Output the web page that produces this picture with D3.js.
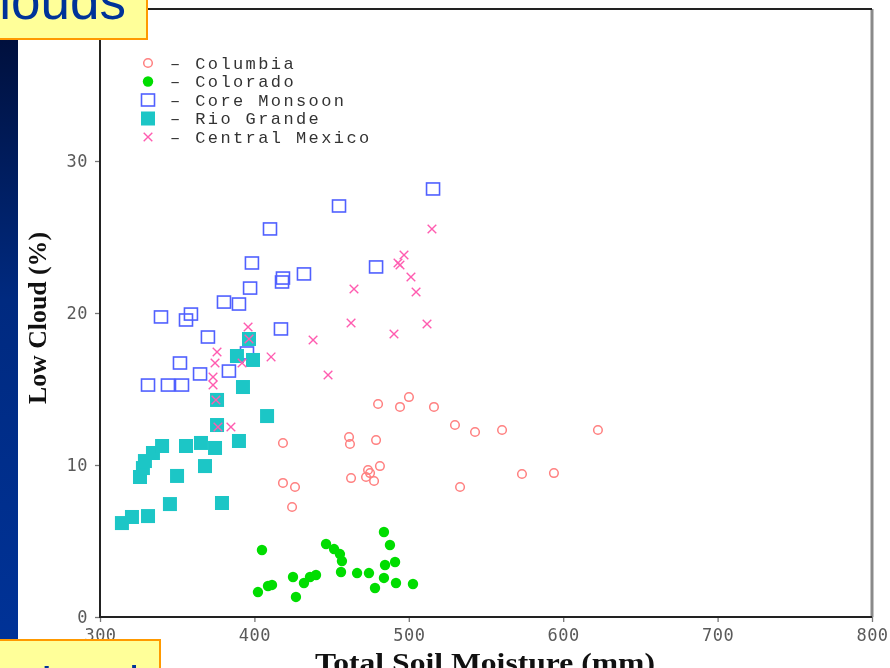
<!DOCTYPE html>
<html>
<head>
<meta charset="utf-8">
<script src="https://cdn.jsdelivr.net/npm/d3@7"></script>
<style>
  body { margin: 0; background: #fff; }
  svg { display: block; }
</style>
</head>
<body>
<div id="chart"></div>
<script>
let W = 890, H = 668;

// values: [soil moisture (mm), low cloud (%)]
let columbia = [
  [418.5, 11.45], [418.5, 8.82], [426.3, 8.55], [424.4, 7.24], [461.3, 11.84],
  [461.9, 11.38], [462.6, 9.14], [472.3, 9.21], [474.9, 9.47], [473.6, 9.67],
  [477.5, 8.95], [478.8, 11.64], [481.3, 9.93], [480.1, 14.01], [494.3, 13.82],
  [500.1, 14.47], [516.3, 13.82], [529.9, 12.63], [542.9, 12.17], [560.4, 12.30],
  [622.5, 12.30], [573.3, 9.41], [594.0, 9.47], [533.2, 8.55]
];
let colorado = [
  [404.9, 4.41], [402.3, 1.64], [408.8, 2.04], [411.4, 2.11], [425.0, 2.63],
  [426.9, 1.32], [432.1, 2.24], [436.0, 2.63], [439.9, 2.76], [446.4, 4.80],
  [451.6, 4.47], [455.4, 4.14], [456.7, 3.68], [456.1, 2.96], [466.5, 2.89],
  [474.2, 2.89], [478.1, 1.91], [483.9, 2.57], [484.6, 3.42], [491.1, 3.62],
  [491.7, 2.24], [502.7, 2.17], [483.9, 5.59], [487.8, 4.74]
];
let coreMonsoon = [
  [331.1, 15.26], [344.0, 15.26], [353.1, 15.26], [339.5, 19.74], [355.7, 19.54],
  [358.9, 19.93], [351.8, 16.71], [364.8, 15.99], [369.9, 18.42], [383.5, 16.18],
  [380.3, 20.72], [390.0, 20.59], [397.2, 21.64], [398.4, 23.29], [410.1, 25.53],
  [395.2, 17.37], [417.2, 18.95], [418.5, 22.30], [417.9, 22.04], [432.1, 22.57],
  [454.8, 27.04], [478.8, 23.03], [515.7, 28.16]
];
let rioGrande = [
  [314.2, 6.18], [320.7, 6.58], [331.1, 6.64], [345.3, 7.43], [379.0, 7.50],
  [325.9, 9.21], [327.8, 9.80], [329.1, 10.26], [334.3, 10.79], [340.2, 11.25],
  [355.7, 11.25], [365.4, 11.45], [374.5, 11.12], [349.9, 9.28], [368.0, 9.93],
  [390.0, 11.58], [408.2, 13.22], [375.8, 14.28], [375.8, 12.63], [392.6, 15.13],
  [388.7, 17.17], [399.1, 16.91], [396.5, 18.29]
];
let centralMexico = [
  [395.9, 19.08], [375.8, 17.43], [374.5, 16.71], [373.2, 15.79], [373.2, 15.26],
  [392.0, 16.71], [410.8, 17.11], [438.0, 18.22], [447.7, 15.92], [464.5, 21.58],
  [462.6, 19.34], [490.4, 18.62], [493.0, 23.29], [496.9, 23.82], [494.3, 23.16],
  [501.4, 22.37], [504.7, 21.38], [511.8, 19.28], [515.0, 25.53], [375.1, 14.28],
  [376.4, 12.50], [384.8, 12.50], [396.5, 18.29]
];

let legendNames = ["Columbia", "Colorado", "Core Monsoon", "Rio Grande", "Central Mexico"];
let xTicks = [300, 400, 500, 600, 700, 800];
let yTicks = [0, 10, 20, 30];

let svg = d3.select("#chart").append("svg")
  .attr("width", W)
  .attr("height", H);

let defs = svg.append("defs");
let grad = defs.append("linearGradient")
  .attr("id", "strip")
  .attr("x1", 0).attr("y1", 0).attr("x2", 0).attr("y2", 1);
grad.append("stop").attr("offset", "0%").attr("stop-color", "#000c33");
grad.append("stop").attr("offset", "45%").attr("stop-color", "#002a80");
grad.append("stop").attr("offset", "100%").attr("stop-color", "#003399");

// dark blue slide strip on the left
svg.append("rect")
  .attr("x", 0).attr("y", 0)
  .attr("width", 18).attr("height", H)
  .attr("fill", "url(#strip)");

let chart = svg.append("g").style("filter", "blur(0.45px)");

let x = d3.scaleLinear().domain([300, 800]).range([100, 872]);
let y = d3.scaleLinear().domain([0, 40]).range([617, 9]);

// axes
let xAxis = chart.append("g")
  .attr("transform", "translate(0," + y(0) + ")")
  .call(d3.axisBottom(x).tickValues(xTicks).tickSize(5).tickPadding(4));
let yAxis = chart.append("g")
  .attr("transform", "translate(" + x(300) + ",0)")
  .call(d3.axisLeft(y).tickValues(yTicks).tickSize(5).tickPadding(7));

[xAxis, yAxis].forEach(function(a){
  a.select(".domain").remove();
  a.selectAll(".tick line").attr("stroke", "#777").attr("stroke-width", 1.3);
  a.selectAll(".tick text")
    .attr("fill", "#5a5a5a")
    .style("font-family", "'DejaVu Sans Mono', monospace")
    .style("font-size", "17px")
    .style("letter-spacing", "0.5px");
});
xAxis.selectAll(".tick text").attr("dy", "0.9em");

// frame
chart.append("line")
  .attr("x1", x(800)).attr("x2", x(800))
  .attr("y1", y(40)).attr("y2", y(0))
  .attr("stroke", "#8a8a8a").attr("stroke-width", 3);
chart.append("path")
  .attr("d", "M" + x(800) + "," + y(40) + "H" + x(300) + "V" + y(0) + "H" + x(800))
  .attr("fill", "none")
  .attr("stroke", "#222")
  .attr("stroke-width", 2);

// axis titles
chart.append("text")
  .attr("x", 485).attr("y", 672)
  .attr("text-anchor", "middle")
  .attr("textLength", 340)
  .attr("lengthAdjust", "spacingAndGlyphs")
  .style("font-family", "'Liberation Serif', serif")
  .style("font-weight", "bold")
  .style("font-size", "27px")
  .attr("fill", "#111")
  .text("Total Soil Moisture (mm)");

chart.append("text")
  .attr("transform", "translate(46,318) rotate(-90)")
  .attr("text-anchor", "middle")
  .attr("textLength", 172)
  .attr("lengthAdjust", "spacingAndGlyphs")
  .style("font-family", "'Liberation Serif', serif")
  .style("font-weight", "bold")
  .style("font-size", "26px")
  .attr("fill", "#111")
  .text("Low Cloud (%)");

// marks
let red = "#ff8080", green = "#00dd00", blue = "#5060ff", cyan = "#1cc6c6", pink = "#ff5cb0";

function drawCircleOpen(g, cx, cy){
  g.append("circle").attr("cx", cx).attr("cy", cy).attr("r", 4.3)
    .attr("fill", "none").attr("stroke", red).attr("stroke-width", 1.5);
}
function drawDot(g, cx, cy){
  g.append("circle").attr("cx", cx).attr("cy", cy).attr("r", 5.2)
    .attr("fill", green);
}
function drawSquareOpen(g, cx, cy){
  g.append("rect").attr("x", cx - 6.5).attr("y", cy - 6).attr("width", 13).attr("height", 12)
    .attr("fill", "none").attr("stroke", blue).attr("stroke-width", 1.6);
}
function drawSquare(g, cx, cy){
  g.append("rect").attr("x", cx - 7).attr("y", cy - 7).attr("width", 14).attr("height", 14)
    .attr("fill", cyan);
}
function drawCross(g, cx, cy){
  let r = 4.3;
  g.append("path")
    .attr("d", "M" + (cx - r) + "," + (cy - r) + "L" + (cx + r) + "," + (cy + r) +
               "M" + (cx - r) + "," + (cy + r) + "L" + (cx + r) + "," + (cy - r))
    .attr("stroke", pink).attr("stroke-width", 1.4).attr("fill", "none");
}

let series = [
  { data: columbia, draw: drawCircleOpen },
  { data: colorado, draw: drawDot },
  { data: coreMonsoon, draw: drawSquareOpen },
  { data: rioGrande, draw: drawSquare },
  { data: centralMexico, draw: drawCross }
];

let marks = chart.append("g");
series.forEach(function(s){
  s.data.forEach(function(d){
    s.draw(marks, x(d[0]), y(d[1]));
  });
});

// legend
let legend = chart.append("g");
for (let i = 0; i < legendNames.length; i++){
  let ly = 63 + i * 18.5;
  series[i].draw(legend, 148, ly);
  legend.append("text")
    .attr("x", 170).attr("y", ly).attr("dy", "0.35em")
    .style("font-family", "'Liberation Mono', monospace")
    .style("font-size", "17px")
    .style("letter-spacing", "2.4px")
    .attr("fill", "#333")
    .text("\u2013 " + legendNames[i]);
}

// slide labels over the picture
let labels = svg.append("g");
labels.append("rect")
  .attr("x", -5).attr("y", -5).attr("width", 152).attr("height", 44)
  .attr("fill", "#ffff99").attr("stroke", "#ff9900").attr("stroke-width", 2);
labels.append("text")
  .attr("x", 126).attr("y", 19)
  .attr("text-anchor", "end")
  .style("font-family", "'Liberation Sans', Arial, sans-serif")
  .style("font-size", "53px")
  .attr("fill", "#003399")
  .text("Clouds");

labels.append("rect")
  .attr("x", -5).attr("y", 640).attr("width", 165).attr("height", 40)
  .attr("fill", "#ffff99").attr("stroke", "#ff9900").attr("stroke-width", 2);
labels.append("text")
  .attr("x", 41).attr("y", 697)
  .style("font-family", "'Liberation Sans', Arial, sans-serif")
  .style("font-size", "44px")
  .attr("fill", "#003399")
  .text("Land");
</script>
</body>
</html>
